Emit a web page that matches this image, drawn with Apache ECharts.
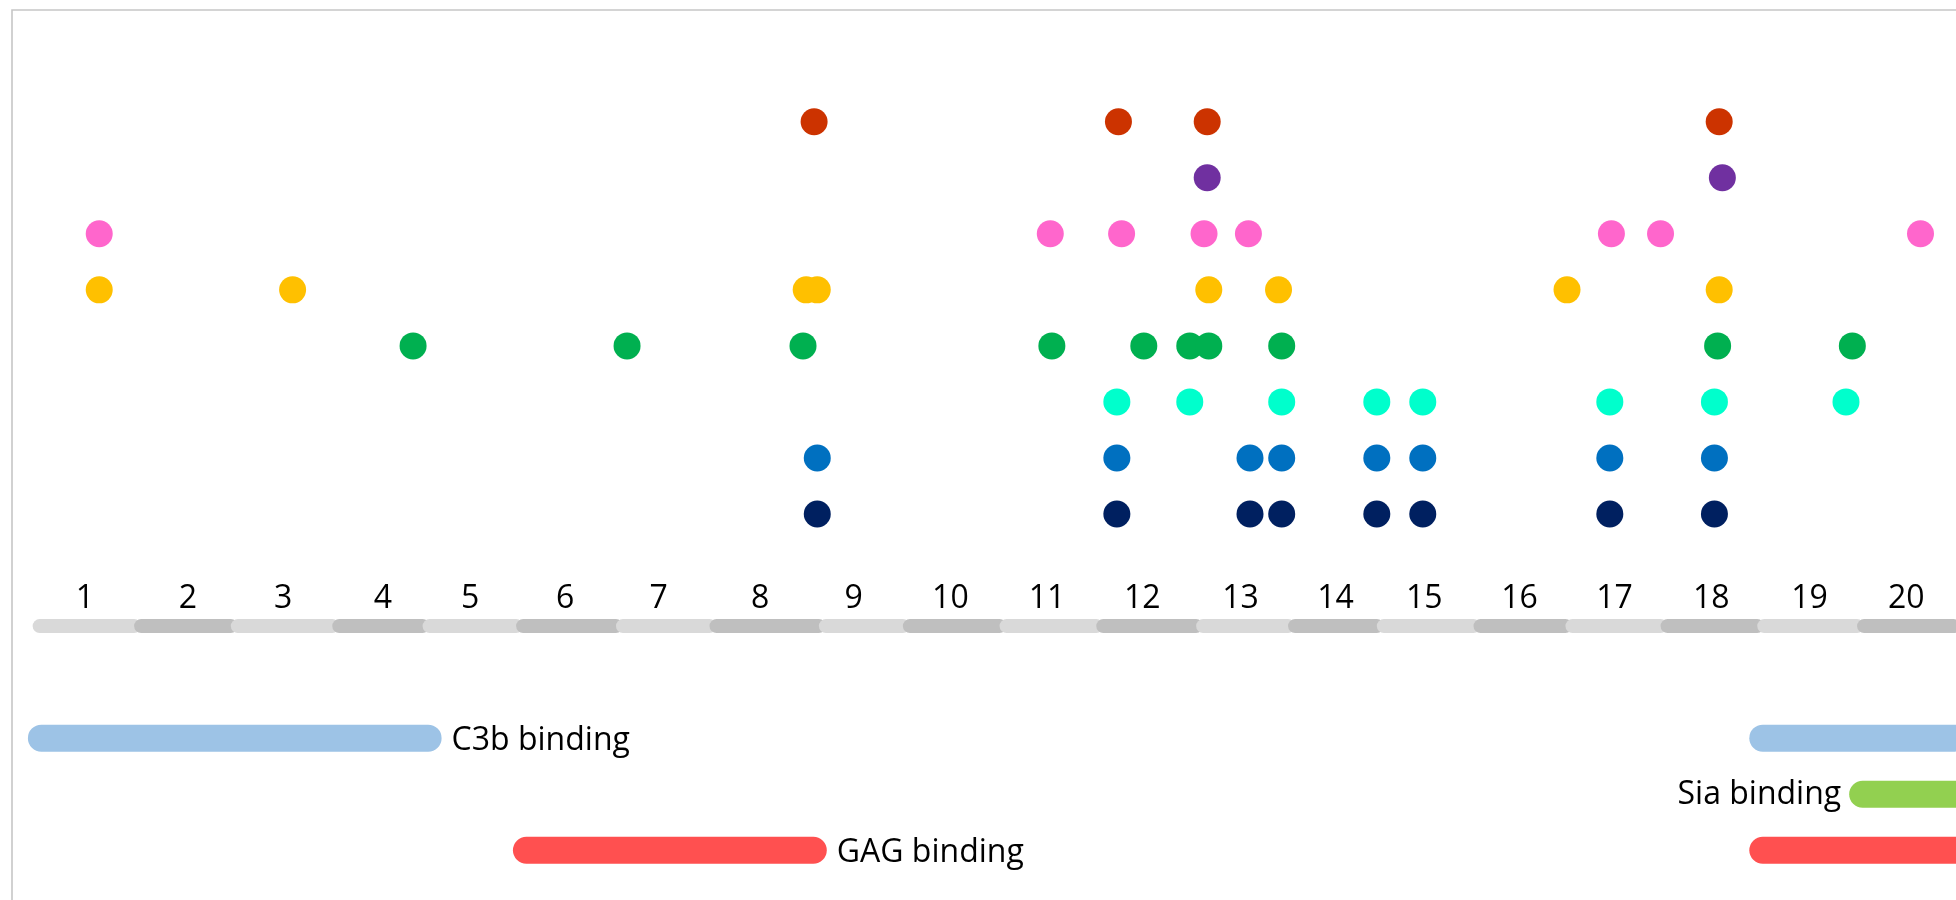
<!DOCTYPE html>
<html>
<head>
<meta charset="utf-8">
<script src="https://cdn.jsdelivr.net/npm/echarts@6/dist/echarts.min.js"></script>
<style>
html,body{margin:0;padding:0;background:#fff;}
#chart{width:1956px;height:900px;}
</style>
</head>
<body>
<div id="chart"></div>
<script>
// ---- Data (x in residue numbers) ----
const domainLabels = ['1','2','3','4','5','6','7','8','9','10','11','12','13','14','15','16','17','18','19','20'];
const domainStarts = [19, 83, 144, 208, 265, 324, 387, 446, 515, 568, 629, 690, 753, 811, 867, 928, 986, 1046, 1107, 1170];
const domainLabelPos = [52, 117, 177, 240, 295, 355, 414, 478, 537, 598, 659, 719, 781, 841, 897, 957, 1017, 1078, 1140, 1201];
const proteinEnd = 1231;

const rowRed    = [512, 704, 760, 1083];
const rowPurple = [760, 1085];
const rowPink   = [61, 661, 706, 758, 786, 1015, 1046, 1210];
const rowGold   = [61, 183, 507, 514, 761, 805, 987, 1083];
const rowGreen  = [259, 394, 505, 662, 720, 749, 761, 807, 1082, 1167];
const rowAqua   = [703, 749, 807, 867, 896, 1014, 1080, 1163];
const rowBlue   = [514, 703, 787, 807, 867, 896, 1014, 1080];
const rowNavy   = [514, 703, 787, 807, 867, 896, 1014, 1080];

const regionNames  = ['C3b binding', 'GAG binding', 'C3b binding', 'Sia binding', 'GAG binding'];
const regionStarts = [16, 322, 1102, 1165, 1102];
const regionEnds   = [277, 520, 1240, 1240, 1240];
const regionRows   = [-3, -5, -3, -4, -5];
const regionLabelSide = ['right', 'right', 'none', 'left', 'none'];
const regionColors = ['#9DC3E6', '#FF5050', '#9DC3E6', '#92D050', '#FF5050'];

const dotRows = [
  {name: 'Row 8', values: rowRed,    row: 8, color: '#CC3300'},
  {name: 'Row 7', values: rowPurple, row: 7, color: '#7030A0'},
  {name: 'Row 6', values: rowPink,   row: 6, color: '#FF66CC'},
  {name: 'Row 5', values: rowGold,   row: 5, color: '#FFC000'},
  {name: 'Row 4', values: rowGreen,  row: 4, color: '#00B050'},
  {name: 'Row 3', values: rowAqua,   row: 3, color: '#00FFCC'},
  {name: 'Row 2', values: rowBlue,   row: 2, color: '#0070C0'},
  {name: 'Row 1', values: rowNavy,   row: 1, color: '#002060'}
];

const trackRow = -1;
const domainLabelRow = -0.5;
const FONT = '32px "Open Sans", sans-serif';

const chart = echarts.init(document.getElementById('chart'), null, {renderer: 'canvas'});

const domainData = domainStarts.map((s, i) => [s, i < domainStarts.length - 1 ? domainStarts[i + 1] : proteinEnd, i, domainLabelPos[i]]);
const regionData = regionStarts.map((s, i) => [s, regionEnds[i], regionRows[i], i]);

const series = [];

series.push({
  type: 'custom',
  name: 'domains',
  data: domainData,
  z: 1,
  clip: false,
  renderItem: function (params, api) {
    const i = api.value(2);
    const p0 = api.coord([api.value(0), trackRow]);
    const p1 = api.coord([api.value(1), trackRow]);
    const pl = api.coord([api.value(3), domainLabelRow]);
    const h = 14;
    const r = h / 2;
    return {
      type: 'group',
      children: [
        {
          type: 'rect',
          shape: {x: p0[0], y: p0[1] - h / 2, width: p1[0] - p0[0] + r, height: h, r: r},
          style: {fill: i % 2 === 0 ? '#D9D9D9' : '#BFBFBF'}
        },
        {
          type: 'text',
          style: {text: domainLabels[i], x: pl[0], y: pl[1] + 1, align: 'center', verticalAlign: 'middle', font: FONT, fill: '#000'}
        }
      ]
    };
  }
});

series.push({
  type: 'custom',
  name: 'regions',
  data: regionData,
  z: 2,
  clip: false,
  renderItem: function (params, api) {
    const i = api.value(3);
    const p0 = api.coord([api.value(0), api.value(2)]);
    const p1 = api.coord([api.value(1), api.value(2)]);
    const h = 27;
    const children = [{
      type: 'rect',
      shape: {x: p0[0], y: p0[1] - h / 2, width: p1[0] - p0[0], height: h, r: h / 2},
      style: {fill: regionColors[i]}
    }];
    const side = regionLabelSide[i];
    if (side === 'right') {
      children.push({type: 'text', style: {text: regionNames[i], x: p1[0] + 10, y: p1[1] + 3, align: 'left', verticalAlign: 'middle', font: FONT, fill: '#000'}});
    } else if (side === 'left') {
      children.push({type: 'text', style: {text: regionNames[i], x: p0[0] - 8, y: p0[1] + 1, align: 'right', verticalAlign: 'middle', font: FONT, fill: '#000'}});
    }
    return {type: 'group', children: children};
  }
});

dotRows.forEach(function (d) {
  series.push({
    type: 'scatter',
    name: d.name,
    data: d.values.map(v => [v, d.row]),
    symbol: 'circle',
    symbolSize: 27,
    itemStyle: {color: d.color, opacity: 1},
    z: 3,
    emphasis: {disabled: true}
  });
});

chart.setOption({
  animation: false,
  backgroundColor: '#fff',
  grid: {left: 0, right: 0, top: 0, bottom: 0},
  xAxis: {type: 'value', min: -1.6, max: 1232.4, show: false},
  yAxis: {type: 'value', min: -5.888, max: 10.172, show: false},
  graphic: [{
    type: 'rect',
    shape: {x: 12, y: 10, width: 2100, height: 1000},
    style: {fill: 'none', stroke: '#C6C6C6', lineWidth: 1.6},
    silent: true,
    z: 100
  }],
  series: series
});
</script>
</body>
</html>
